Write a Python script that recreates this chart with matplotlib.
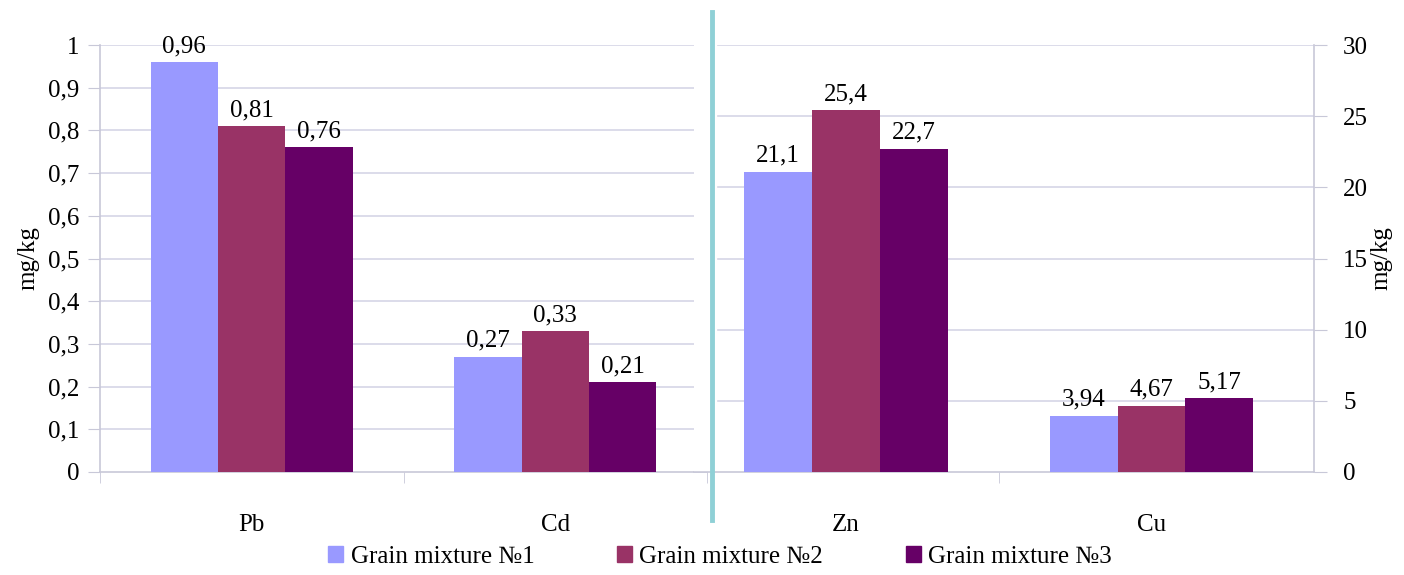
import numpy as np
import matplotlib.pyplot as plt
from matplotlib.patches import Patch

plt.rcParams['font.family'] = ['Liberation Serif', 'DejaVu Serif']

# data
left_cats = ['Pb', 'Cd']
right_cats = ['Zn', 'Cu']
series = ['Grain mixture №1', 'Grain mixture №2', 'Grain mixture №3']
left_vals = [[0.96, 0.27], [0.81, 0.33], [0.76, 0.21]]
right_vals = [[21.1, 3.94], [25.4, 4.67], [22.7, 5.17]]
colors = ['#9999ff', '#993366', '#660066']

grid_c = '#d6d6e6'
spine_c = '#c8c8d8'
fs = 18


def fmt(v):
    return ('%g' % v).replace('.', ',')


def draw_group(ax, cats, vals, ymax, step, xlim, gx0=0.0):
    x = np.arange(len(cats))
    w = 0.222
    for i, s in enumerate(vals):
        pos = x + (i - 1) * w
        ax.bar(pos, s, width=w, color=colors[i], zorder=3)
        for p, v in zip(pos, s):
            ax.text(p, v + ymax * 0.012, fmt(v), ha='center', va='bottom',
                    fontsize=fs)
    ax.set_xlim(*xlim)
    ax.set_ylim(0, ymax)
    ticks = np.arange(0, ymax + step / 2, step)
    ax.set_yticks(ticks)
    ax.set_yticklabels([fmt(round(t, 2)) for t in ticks], fontsize=fs)
    for t in ticks[1:]:
        ax.axhline(t, xmin=gx0, color=grid_c, lw=1.2, zorder=1)
    ax.set_xticks(x)
    ax.set_xticklabels(cats, fontsize=fs)
    ax.tick_params(axis='x', which='major', length=0, pad=30)
    ax.tick_params(axis='x', which='minor', length=8, color=spine_c)
    ax.tick_params(axis='y', length=9, color=spine_c, pad=6)
    for sp in ax.spines.values():
        sp.set_color(spine_c)
        sp.set_linewidth(1.2)
    ax.spines['top'].set_visible(False)


fig = plt.figure(figsize=(14.04, 5.75), dpi=100)

ax1 = fig.add_axes([100 / 1404, 1 - 472 / 575, 607 / 1404, 427 / 575])
draw_group(ax1, left_cats, left_vals, 1.0, 0.1, (-0.5, 1.5))
ax1.set_xticks([-0.5, 0.5, 1.5], minor=True)
ax1.spines['right'].set_visible(False)
ax1.set_ylabel('mg/kg', fontsize=fs, labelpad=6)

ax2 = fig.add_axes([694 / 1404, 1 - 472 / 575, 620 / 1404, 427 / 575])
draw_group(ax2, right_cats, right_vals, 30, 5, (-0.4975, 1.532),
           gx0=24 / 620)
ax2.set_xticks([0.5], minor=True)
ax2.spines['left'].set_visible(False)
ax2.yaxis.tick_right()
ax2.yaxis.set_label_position('right')
ax2.tick_params(axis='y', which='both', left=False, pad=12)
ax2.set_ylabel('mg/kg', fontsize=fs, labelpad=2, rotation=90)

# separator line
fig.add_artist(plt.Line2D([712 / 1404, 712 / 1404], [1 - 12 / 575, 1 - 520 / 575],
                          color='#8fd0d6', lw=3.5, transform=fig.transFigure,
                          zorder=10))

handles = [Patch(color=c) for c in colors]
fig.legend(handles, series, loc='center', ncol=3, frameon=False,
           bbox_to_anchor=(720 / 1404, 1 - 557 / 575), fontsize=fs,
           handlelength=0.6, handleheight=0.6, handletextpad=0.3,
           columnspacing=3.3)

fig.savefig('out.png', dpi=100)
